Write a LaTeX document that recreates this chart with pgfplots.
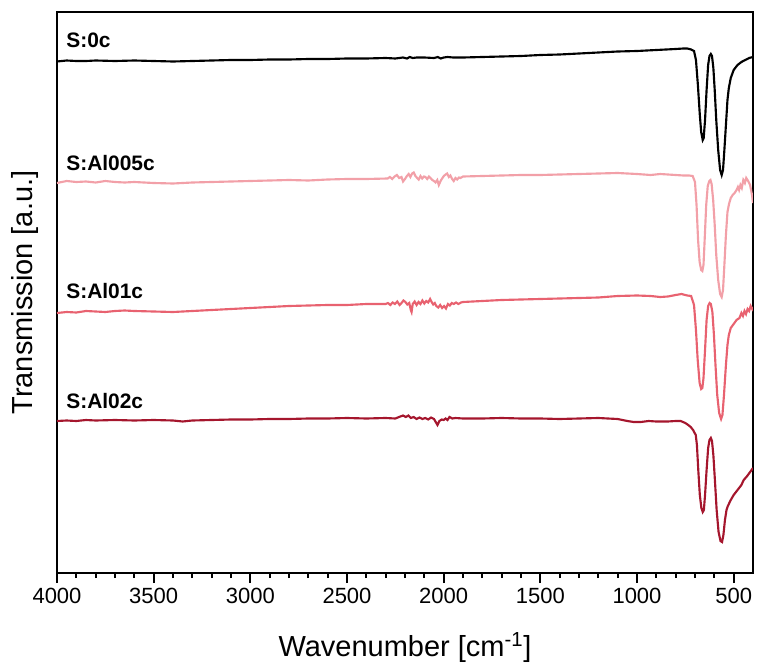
\documentclass[border=0pt]{standalone}
\usepackage{fontspec}
\setmainfont{Liberation Sans}
\usepackage{pgfplots}
\pgfplotsset{compat=1.18}
\definecolor{cblack}{RGB}{0,0,0}
\definecolor{cpink}{RGB}{242,160,168}
\definecolor{cred}{RGB}{232,98,112}
\definecolor{cdark}{RGB}{165,22,45}

% y values are read as distances from the top of the image (pixels)
\pgfplotstableread{
w y
4000 61.5
3950 60.5
3900 61
3850 61
3800 60.5
3700 61
3600 60.5
3500 61
3400 61.5
3300 61
3200 60.5
3100 60
3000 60
2900 59.5
2800 59.5
2700 59
2600 59
2500 58.5
2400 58.5
2300 58
2250 58.5
2210 57.5
2190 58.5
2175 57
2160 58
2140 57.5
2100 57.5
2050 58
2030 57
2015 58.5
2000 57.5
1980 57
1950 57.5
1900 57.5
1800 57
1700 56.5
1600 56
1500 55
1400 54.5
1300 53.5
1200 52.5
1100 51.5
1000 51
900 50
800 49
760 48.5
740 48.5
720 49.5
705 51
695 60
685 85
675 115
668 132
660 140
655 138
648 120
640 90
632 65
625 56
618 54
612 56
605 68
598 90
590 120
580 150
570 170
562 175
555 170
548 150
540 125
532 100
525 88
515 78
500 70
480 65
460 62
440 60
420 58
400 57
}\tblack

\pgfplotstableread{
w y
4000 183
3950 181
3900 182
3850 181.5
3800 182.5
3750 181
3700 182
3650 182.5
3600 182
3500 183
3400 183.5
3300 182.5
3200 182
3100 181.5
3000 181
2900 180.5
2800 180
2700 180.5
2600 179.5
2500 179
2400 179
2290 178.5
2278 177
2266 179
2254 176.5
2242 175
2230 178
2218 177
2210 181.5
2200 179
2190 176
2181 174
2172 177
2163 173.5
2155 172.5
2146 176
2137 178
2129 179.5
2120 176
2111 178.5
2102 176.5
2094 177
2085 179
2076 176.5
2068 178
2059 180
2050 181
2042 182.5
2033 180
2025 185
2016 181
2008 178.5
1999 176
1990 174.5
1982 173.5
1973 177
1965 175.5
1956 179
1948 181
1939 178
1930 179.5
1921 177.5
1913 178
1900 176.5
1800 176
1700 175.5
1600 175
1500 175
1400 174.5
1300 174
1200 173.5
1100 173
1000 174
929 175
880 174
800 175
760 175.5
730 175.5
712 176
700 182
692 205
684 240
676 262
668 270
662 271
656 265
650 240
642 205
634 186
626 181
620 180
614 184
606 200
598 225
590 255
580 280
570 294
562 297
555 290
548 265
540 235
532 212
524 204
515 198
505 195
495 193
485 190
478 187
472 190
465 185
458 188
450 180
442 183
435 178
425 181
415 185
405 195
400 203
}\tpink

\pgfplotstableread{
w y
4000 313
3950 312
3900 312.5
3850 311
3800 311.5
3750 312
3700 311
3650 310.5
3600 311
3500 311.5
3400 312
3300 311
3200 310
3100 309
3000 308
2900 307
2800 306
2700 305.5
2600 305
2500 305
2400 304
2300 304
2288 303
2276 305
2264 302.5
2252 304
2240 301.5
2228 305
2218 303
2208 300.5
2198 302
2188 304.5
2178 303
2170 310
2166 312
2160 304
2150 301.5
2140 305
2130 302
2120 304
2110 300.5
2100 303.5
2090 301
2080 302.5
2070 299
2062 302
2054 304.5
2046 303
2038 306
2028 307.5
2018 305
2008 308
1998 306
1988 308.5
1978 304
1968 305.5
1958 303
1948 304
1936 302.5
1924 304
1910 302.5
1900 302
1800 301
1700 300
1600 299.5
1500 299
1400 298.5
1300 298
1200 297.5
1100 296
1000 295.5
929 296
880 297
840 296.5
800 295
770 294
740 295.5
720 296
705 305
695 330
686 360
676 383
668 389
662 388
656 378
648 350
640 320
632 306
624 303
618 304
610 312
602 335
594 365
585 395
575 413
565 419
558 415
550 395
540 365
532 345
525 335
515 328
500 324
485 320
470 318
460 313
452 316
444 311
436 314
428 309
420 311
412 306
404 309
400 307
}\tred

\pgfplotstableread{
w y
4000 421
3950 420.5
3900 421
3850 420
3800 420.5
3700 420
3600 420.5
3500 420
3400 420.5
3350 421.5
3300 420.5
3200 420
3100 419.5
3000 419.5
2900 419
2800 419
2700 418.5
2600 418.5
2500 418
2400 418.5
2300 418
2250 418.5
2224 416.5
2210 415.5
2196 417
2182 415.5
2170 418
2155 417
2140 419
2125 417.5
2110 419
2095 418
2080 419.5
2065 417.5
2050 419
2038 423
2032 425
2022 421
2010 419.5
2000 420
1990 418.5
1980 420
1970 417
1955 418.5
1940 418
1900 418.5
1800 418.5
1700 418
1600 418.5
1500 418.5
1400 419
1300 418.5
1200 418
1100 419
1050 421
1017 422
980 422
940 421
900 421.5
841 421.5
800 421
774 421
750 423
735 425
722 427
710 430
696 435
690 445
683 470
675 495
667 508
660 512
654 510
648 495
640 470
632 448
625 440
618 438
612 441
605 455
597 480
588 510
578 532
568 541
560 542
553 535
545 520
537 510
530 506
515 500
500 495
480 490
460 485
448 480
430 476
415 472
400 468
}\tdark

\begin{document}
\begin{tikzpicture}
\useasboundingbox (-42.75pt,-70.5pt) rectangle (525.75pt,429.75pt);
\begin{axis}[
  at={(0,0)}, anchor=south west,
  scale only axis,
  width=522pt, height=420.75pt,
  x dir=reverse,
  xmin=400, xmax=4000,
  y dir=reverse,
  ymin=12, ymax=573,
  ytick=\empty,
  xtick={500,1000,...,4000},
  minor x tick num=4,
  xtick pos=bottom,
  tick align=outside,
  major tick length=7.5pt,
  minor tick length=3.75pt,
  every tick/.style={black, line width=1.3pt},
  axis line style={line width=1.5pt},
  /pgf/number format/assume math mode=true,
  /pgf/number format/1000 sep={},
  tick label style={font=\fontsize{16.5}{19}\selectfont},
  xlabel={Wavenumber [cm\textsuperscript{-1}]},
  ylabel={Transmission [a.u.]},
  label style={font=\fontsize{21.75}{25}\selectfont},
  xlabel style={at={(axis description cs:0.5,-0.1497)}, anchor=base},
  ylabel style={at={(axis description cs:-0.0345,0.5)}, anchor=base},
  clip=true,
]
\addplot[cblack, line width=1.6pt] table[x=w,y=y] {\tblack};
\addplot[cpink, line width=1.6pt] table[x=w,y=y] {\tpink};
\addplot[cred, line width=1.6pt] table[x=w,y=y] {\tred};
\addplot[cdark, line width=1.6pt] table[x=w,y=y] {\tdark};
\node[anchor=base west, inner sep=0pt, font=\bfseries\fontsize{15.7}{18}\selectfont] at (axis cs:3953,47) {S:0c};
\node[anchor=base west, inner sep=0pt, font=\bfseries\fontsize{15.7}{18}\selectfont] at (axis cs:3953,170) {S:Al005c};
\node[anchor=base west, inner sep=0pt, font=\bfseries\fontsize{15.7}{18}\selectfont] at (axis cs:3953,298) {S:Al01c};
\node[anchor=base west, inner sep=0pt, font=\bfseries\fontsize{15.7}{18}\selectfont] at (axis cs:3953,408) {S:Al02c};
\end{axis}
\end{tikzpicture}
\end{document}
